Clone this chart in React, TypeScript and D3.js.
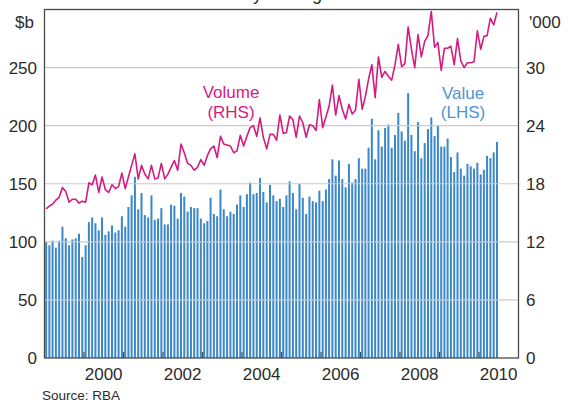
import React from 'react';
import * as d3 from 'd3';

// monthly, Jan 1999 onwards
const startYear = 1999;

// $b, LHS (bars)
const valueLHS = [
  100, 97, 101, 95, 101, 113, 103, 97, 102, 103, 107, 87,
  97, 117, 121, 116, 110, 121, 106, 109, 114, 108, 110, 122,
  113, 130, 140, 156, 128, 142, 123, 121, 140, 119, 120, 129,
  115, 115, 132, 131, 120, 142, 139, 126, 130, 129, 129, 120,
  116, 118, 138, 124, 122, 145, 128, 122, 126, 124, 132, 140,
  130, 141, 151, 141, 142, 155, 143, 134, 149, 140, 135, 137,
  130, 140, 152, 142, 128, 150, 138, 124, 139, 135, 134, 144,
  135, 145, 154, 171, 157, 170, 154, 147, 167, 151, 154, 172,
  163, 163, 181, 206, 171, 196, 182, 198, 201, 181, 192, 211,
  195, 187, 228, 192, 178, 203, 172, 185, 197, 207, 191, 200,
  182, 182, 189, 173, 160, 177, 163, 157, 167, 165, 163, 168,
  158, 162, 174, 172, 177, 186,
];

// '000, RHS (line)
const volumeRHS = [
  15.4, 15.7, 15.9, 16.3, 16.6, 17.6, 17.2, 16.1, 16.4, 16.4, 16.0, 16.2,
  16.1, 18.1, 17.9, 18.9, 17.1, 18.7, 17.4, 17.1, 17.9, 17.5, 17.7, 19.1,
  17.5, 18.7, 19.9, 21.1, 18.5, 19.9, 19.0, 18.5, 19.9, 18.5, 18.6, 20.1,
  18.5, 19.0, 19.7, 20.4, 19.4, 22.1, 21.2, 20.1, 19.9, 19.4, 19.7, 20.5,
  19.9, 20.9, 21.6, 21.9, 20.7, 22.9, 22.1, 22.0, 21.9, 21.2, 21.4, 23.0,
  21.9, 22.9, 23.8, 24.0, 22.9, 24.8, 22.8, 21.6, 23.1, 23.1, 22.5, 25.1,
  23.2, 23.3, 25.0, 24.6, 22.8, 25.0, 24.3, 22.8, 24.1, 24.0, 23.5, 26.7,
  23.8, 24.9, 26.0, 28.2, 25.1, 27.1, 25.7, 24.7, 26.2, 25.2, 25.6, 28.8,
  25.7, 27.0, 28.8, 30.3, 26.9, 31.1, 29.0, 29.6, 29.1, 28.7, 30.3, 32.4,
  30.1, 30.4, 34.2, 31.9, 30.0, 33.4, 31.1, 32.7, 33.3, 35.8, 32.1, 32.6,
  29.7, 32.0, 32.0, 32.2, 30.3, 33.0, 30.7, 30.0, 30.5, 30.5, 30.6, 33.8,
  31.9, 33.2, 33.3, 35.1, 34.4, 35.7,
];

const leftTicks = [0, 50, 100, 150, 200, 250];
const rightTicks = [0, 6, 12, 18, 24, 30];
const yearLabels = [2000, 2002, 2004, 2006, 2008, 2010];

const FONT = "Arial, 'Liberation Sans', sans-serif";
const BAR = '#3a87c9';
const LINE = '#d31c7f';
const TEXT = '#2b2b2b';

export default function App() {
  const width = 570;
  const height = 402;
  const plot = { left: 44.5, right: 518.5, top: 9.5, bottom: 358 };

  const x = d3.scaleTime()
    .domain([new Date(startYear, 0, 1), new Date(startYear + 12, 0, 1)])
    .range([plot.left, plot.right]);
  const yL = d3.scaleLinear().domain([0, 300]).range([plot.bottom, plot.top]);
  const yR = d3.scaleLinear().domain([0, 36]).range([plot.bottom, plot.top]);

  // centre of month i
  const mid = (i: number) =>
    (x(new Date(startYear, i, 1)) + x(new Date(startYear, i + 1, 1))) / 2;

  const line = d3.line<number>()
    .x((_, i) => mid(i))
    .y(d => yR(d));

  const yearTicks = d3.timeYear.range(new Date(startYear + 1, 0, 1), new Date(startYear + 12, 0, 1));

  return (
    <svg width={width} height={height} style={{ position: 'absolute', left: 0, top: 0, background: '#fff' }}
      fontFamily={FONT}>
      {/* title line, only its descenders show above the frame */}
      <text x={222} y={-0.5} fontSize={18} fill={TEXT}>Daily average</text>

      <rect x={plot.left} y={plot.top} width={plot.right - plot.left} height={plot.bottom - plot.top} fill="#fff" />

      {valueLHS.map((v, i) => (
        <rect key={i} x={mid(i) - 1} y={yL(v)} width={2} height={plot.bottom - yL(v)} fill={BAR} />
      ))}

      {leftTicks.filter(t => t > 0).map(t => (
        <line key={t} x1={plot.left} x2={plot.right} y1={yL(t)} y2={yL(t)} stroke="#cbcbcb" strokeWidth={1.2} />
      ))}

      <path d={line(volumeRHS) || ''} fill="none" stroke={LINE} strokeWidth={1.6} strokeLinejoin="round" />

      {yearTicks.map(d => (
        <line key={+d} x1={x(d)} x2={x(d)} y1={plot.bottom} y2={plot.bottom - 6} stroke="#4a4a4a" strokeWidth={1.2} />
      ))}

      <rect x={plot.left} y={plot.top} width={plot.right - plot.left} height={plot.bottom - plot.top}
        fill="none" stroke="#4a4a4a" strokeWidth={1.3} />

      {/* axes labels */}
      <text x={15} y={28} fontSize={17} fill={TEXT}>$b</text>
      <text x={529} y={28} fontSize={17} fill={TEXT}>'000</text>
      {leftTicks.map(t => (
        <text key={t} x={37} y={yL(t) + 6} fontSize={17} fill={TEXT} textAnchor="end">{t}</text>
      ))}
      {rightTicks.map(t => (
        <text key={t} x={526} y={yR(t) + 6} fontSize={17} fill={TEXT}>{t}</text>
      ))}
      {yearLabels.map(yr => (
        <text key={yr} x={x(new Date(yr, 6, 1))} y={380} fontSize={17} fill={TEXT} textAnchor="middle">{yr}</text>
      ))}

      {/* series labels */}
      <text x={231} y={98} fontSize={17} fill={LINE} textAnchor="middle">Volume</text>
      <text x={231} y={118} fontSize={17} fill={LINE} textAnchor="middle">(RHS)</text>
      <text x={463} y={99} fontSize={17} fill="#4c95d3" textAnchor="middle">Value</text>
      <text x={463} y={118} fontSize={17} fill="#4c95d3" textAnchor="middle">(LHS)</text>

      <text x={42} y={400} fontSize={13.5} fill={TEXT}>Source: RBA</text>
    </svg>
  );
}
